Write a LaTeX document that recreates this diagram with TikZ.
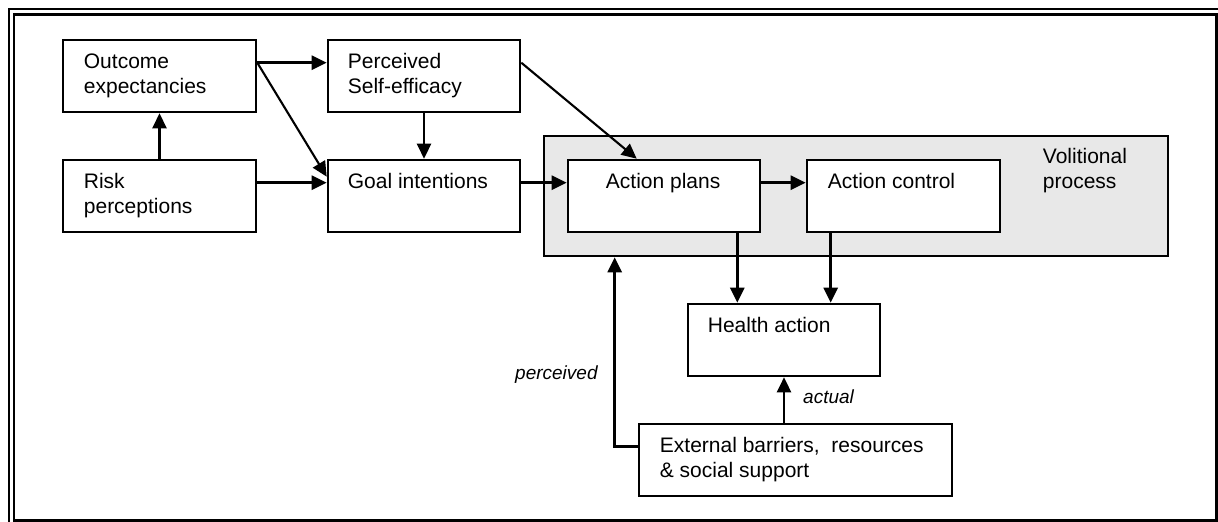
\documentclass[tikz,border=0pt]{standalone}
\usepackage{fontspec}
\setmainfont{Liberation Sans}
\usetikzlibrary{arrows.meta,calc}
\definecolor{volgray}{HTML}{E8E8E8}
\newcommand\vstr{\rule[-6pt]{0pt}{25pt}}
\begin{document}
\begin{tikzpicture}[x=1pt,y=-1pt,
  box/.style={draw=black,line width=2.6pt,fill=white,minimum height=72pt,inner sep=0pt},
  txt/.style={anchor=north west,inner sep=0pt,align=left,font=\fontsize{21pt}{25pt}\selectfont},
  lab/.style={inner sep=0pt,font=\fontsize{19pt}{23pt}\selectfont\itshape},
  arr/.style={line width=2.6pt,-{Triangle[length=15pt,width=14pt]}},
  darr/.style={line width=2.1pt,-{Triangle[length=15pt,width=14pt]}}]
\useasboundingbox (0,0) rectangle (1218,522);
% frame
\draw[line width=2.6pt] (14,14.5) rectangle (1216.7,520.7);
\draw[line width=2pt] (8.5,522) -- (8.5,9) -- (1218,9);
% volitional grey box
\node[draw=black,line width=2.6pt,fill=volgray,minimum width=624pt,minimum height=120pt,inner sep=0pt] (vol) at (856,196) {};
\node[txt] (volt) at ($(vol.north west)+(500,10)$) {\vstr Volitional\\\vstr process};
% boxes
\node[box,minimum width=193pt] (o) at (159.5,76) {};
\node[box,minimum width=193pt] (r) at (159.5,196) {};
\node[box,minimum width=192pt] (p) at (424,76) {};
\node[box,minimum width=192pt] (g) at (424,196) {};
\node[box,minimum width=192pt] (ap) at (664,196) {};
\node[box,minimum width=193pt] (ac) at (903.5,196) {};
\node[box,minimum width=192pt] (h) at (784,340) {};
\node[box,minimum width=313pt] (e) at (795.5,460) {};
% texts
\node[txt] (ot) at ($(o.north west)+(22,11)$) {\vstr Outcome\\\vstr expectancies};
\node[txt] (rt) at ($(r.north west)+(22,11)$) {\vstr Risk\\\vstr perceptions};
\node[txt] (pt) at ($(p.north west)+(21,11)$) {\vstr Perceived\\\vstr Self-efficacy};
\node[txt] (gt) at ($(g.north west)+(21,11)$) {\vstr Goal intentions};
\node[txt] (apt) at ($(ap.north west)+(39,11)$) {\vstr Action plans};
\node[txt] (act) at ($(ac.north west)+(22,11)$) {\vstr Action control};
\node[txt] (ht) at ($(h.north west)+(21,11)$) {\vstr Health action};
\node[txt] (et) at ($(e.north west)+(22,11)$) {\vstr External barriers,\ \ resources\\\vstr \& social support};
% labels
\node[lab,anchor=base west] (perc) at (515,379) {perceived};
\node[lab,anchor=base west] (actl) at (803,403) {actual};
% connectors
\draw[arr] ($(o.north east)+(0,24)$) -- ($(p.north west)+(0,24)$);
\draw[darr] ($(o.north east)+(0,24)$) -- ($(g.north west)+(0,18)$);
\draw[arr] ($(r.north east)+(0,24)$) -- ($(g.north west)+(0,24)$);
\draw[arr] (r.north) -- (o.south);
\draw[arr] (p.south) -- (g.north);
\draw[darr] ($(p.north east)+(0,24)$) -- ($(ap.north west)+(70,0)$);
\draw[arr] ($(g.north east)+(0,24)$) -- ($(ap.north west)+(0,24)$);
\draw[arr] ($(ap.north east)+(0,24)$) -- ($(ac.north west)+(0,24)$);
\coordinate (apd) at ($(ap.south east)+(-24,0)$);
\draw[arr] (apd) -- (apd |- h.north);
\coordinate (acd) at ($(ac.south west)+(25,0)$);
\draw[arr] (acd) -- (acd |- h.north);
\draw[arr] (e.north -| h.south) -- (h.south);
\coordinate (ew) at ($(e.north west)+(0,24)$);
\coordinate (pk) at ($(vol.south west)+(72,0)$);
\draw[arr] (ew) -| (pk);
\end{tikzpicture}
\end{document}
